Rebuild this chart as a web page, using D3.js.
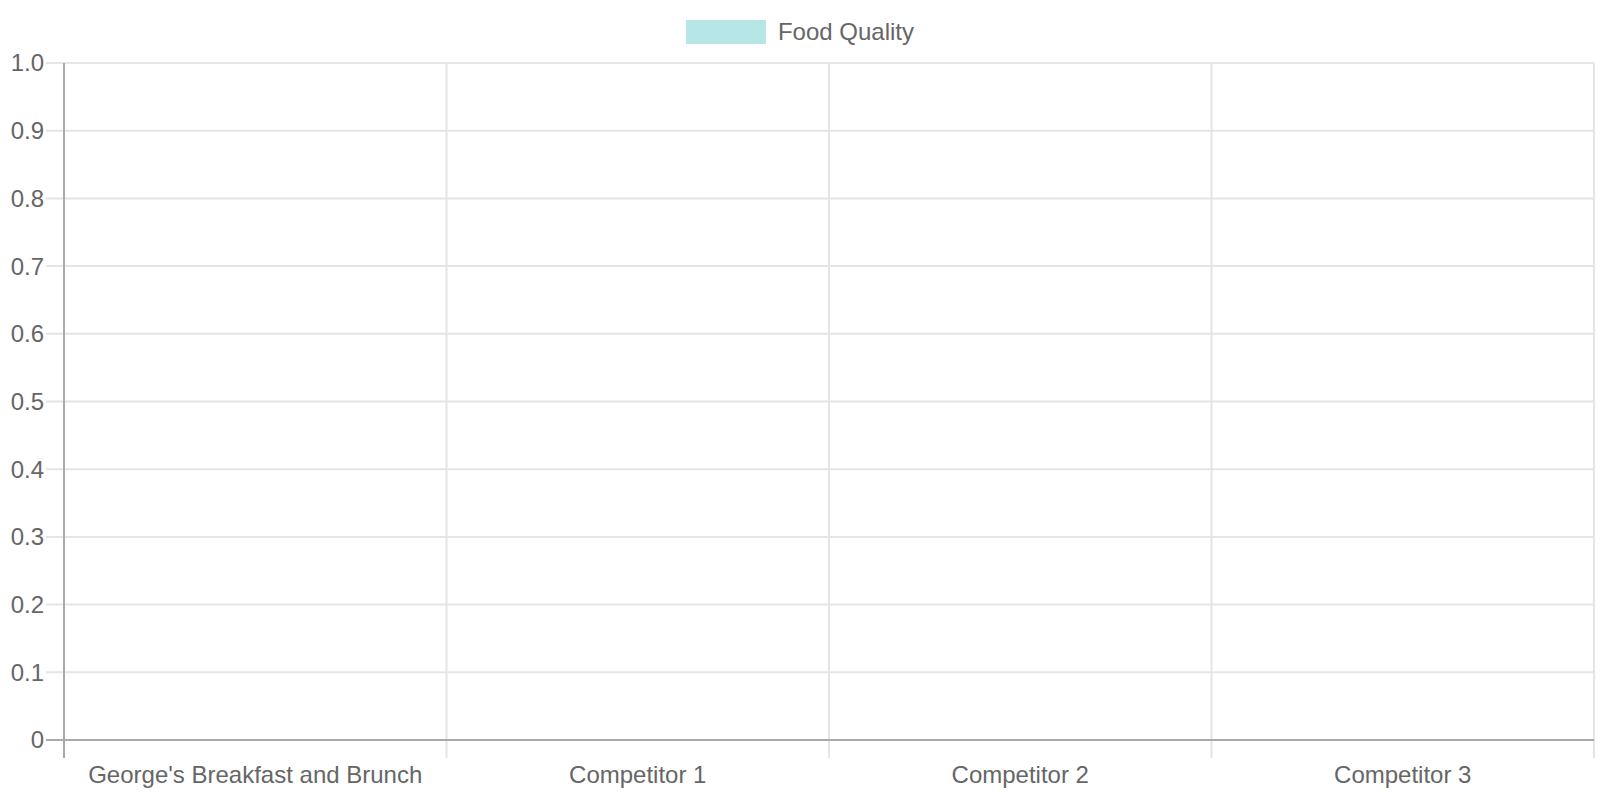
<!DOCTYPE html>
<html>
<head>
<meta charset="utf-8">
<script src="https://cdn.jsdelivr.net/npm/d3@7"></script>
<style>
  html, body { margin: 0; padding: 0; background: #fff; }
  svg { display: block; font-family: "Liberation Sans", Arial, sans-serif; }
</style>
</head>
<body>
<svg width="1600" height="800"></svg>
<script>
const categories = ["George's Breakfast and Brunch", "Competitor 1", "Competitor 2", "Competitor 3"];
const series_name = "Food Quality";
const food_quality = [0, 0, 0, 0];
const y_ticks = [0, 0.1, 0.2, 0.3, 0.4, 0.5, 0.6, 0.7, 0.8, 0.9, 1.0];

const width = 1600, height = 800;
const margin = { top: 63, right: 6, bottom: 60, left: 64 };
const font_size = 24;
const text_color = "#666";
const grid_color = "#e5e5e5";
const axis_color = "#aaa";
const bar_color = "rgba(75,192,192,0.4)";
const tick_len = 18;

const svg = d3.select("svg");

const x = d3.scaleBand()
  .domain(categories)
  .range([margin.left, width - margin.right])
  .paddingInner(0.2)
  .paddingOuter(0.1);
const x_full = d3.scaleBand()
  .domain(categories)
  .range([margin.left, width - margin.right]);
const y = d3.scaleLinear([0, 1], [height - margin.bottom, margin.top]);

// horizontal grid
svg.append("g")
  .selectAll("line")
  .data(y_ticks.slice(1))
  .join("line")
    .attr("x1", margin.left - tick_len)
    .attr("x2", width - margin.right)
    .attr("y1", d => y(d))
    .attr("y2", d => y(d))
    .attr("stroke", grid_color)
    .attr("stroke-width", 2);

// vertical grid at category boundaries
const bounds = categories.map(c => x_full(c)).concat([x_full.range()[1]]);
svg.append("g")
  .selectAll("line")
  .data(bounds.slice(1))
  .join("line")
    .attr("x1", d => d)
    .attr("x2", d => d)
    .attr("y1", margin.top)
    .attr("y2", height - margin.bottom + tick_len)
    .attr("stroke", grid_color)
    .attr("stroke-width", 2);

// bars (all values are zero in the source)
svg.append("g")
  .selectAll("rect")
  .data(food_quality)
  .join("rect")
    .attr("x", (d, i) => x(categories[i]))
    .attr("width", x.bandwidth())
    .attr("y", d => y(d))
    .attr("height", d => y(0) - y(d))
    .attr("fill", bar_color);

// axis lines
svg.append("line")
  .attr("x1", margin.left - tick_len).attr("x2", width - margin.right)
  .attr("y1", y(0)).attr("y2", y(0))
  .attr("stroke", axis_color).attr("stroke-width", 2);
svg.append("line")
  .attr("x1", margin.left).attr("x2", margin.left)
  .attr("y1", margin.top).attr("y2", height - margin.bottom + tick_len)
  .attr("stroke", axis_color).attr("stroke-width", 2);

// y tick labels
svg.append("g")
  .selectAll("text")
  .data(y_ticks)
  .join("text")
    .attr("x", margin.left - tick_len - 2)
    .attr("y", d => y(d))
    .attr("dy", "0.35em")
    .attr("text-anchor", "end")
    .attr("fill", text_color)
    .attr("font-size", font_size)
    .text(d => d === 0 ? "0" : d.toFixed(1));

// x tick labels
svg.append("g")
  .selectAll("text")
  .data(categories)
  .join("text")
    .attr("x", d => x_full(d) + x_full.bandwidth() / 2)
    .attr("y", height - margin.bottom + 35)
    .attr("dy", "0.35em")
    .attr("text-anchor", "middle")
    .attr("fill", text_color)
    .attr("font-size", font_size)
    .text(d => d);

// legend
const legend = svg.append("g");
const legend_text = legend.append("text")
  .attr("y", 32)
  .attr("dy", "0.35em")
  .attr("fill", text_color)
  .attr("font-size", font_size)
  .text(series_name);
const tw = legend_text.node().getComputedTextLength();
const box_w = 80, gap = 12;
const lx = (width - (box_w + gap + tw)) / 2;
legend.append("rect")
  .attr("x", lx).attr("y", 20)
  .attr("width", box_w).attr("height", 24)
  .attr("fill", bar_color);
legend_text.attr("x", lx + box_w + gap);
</script>
</body>
</html>
